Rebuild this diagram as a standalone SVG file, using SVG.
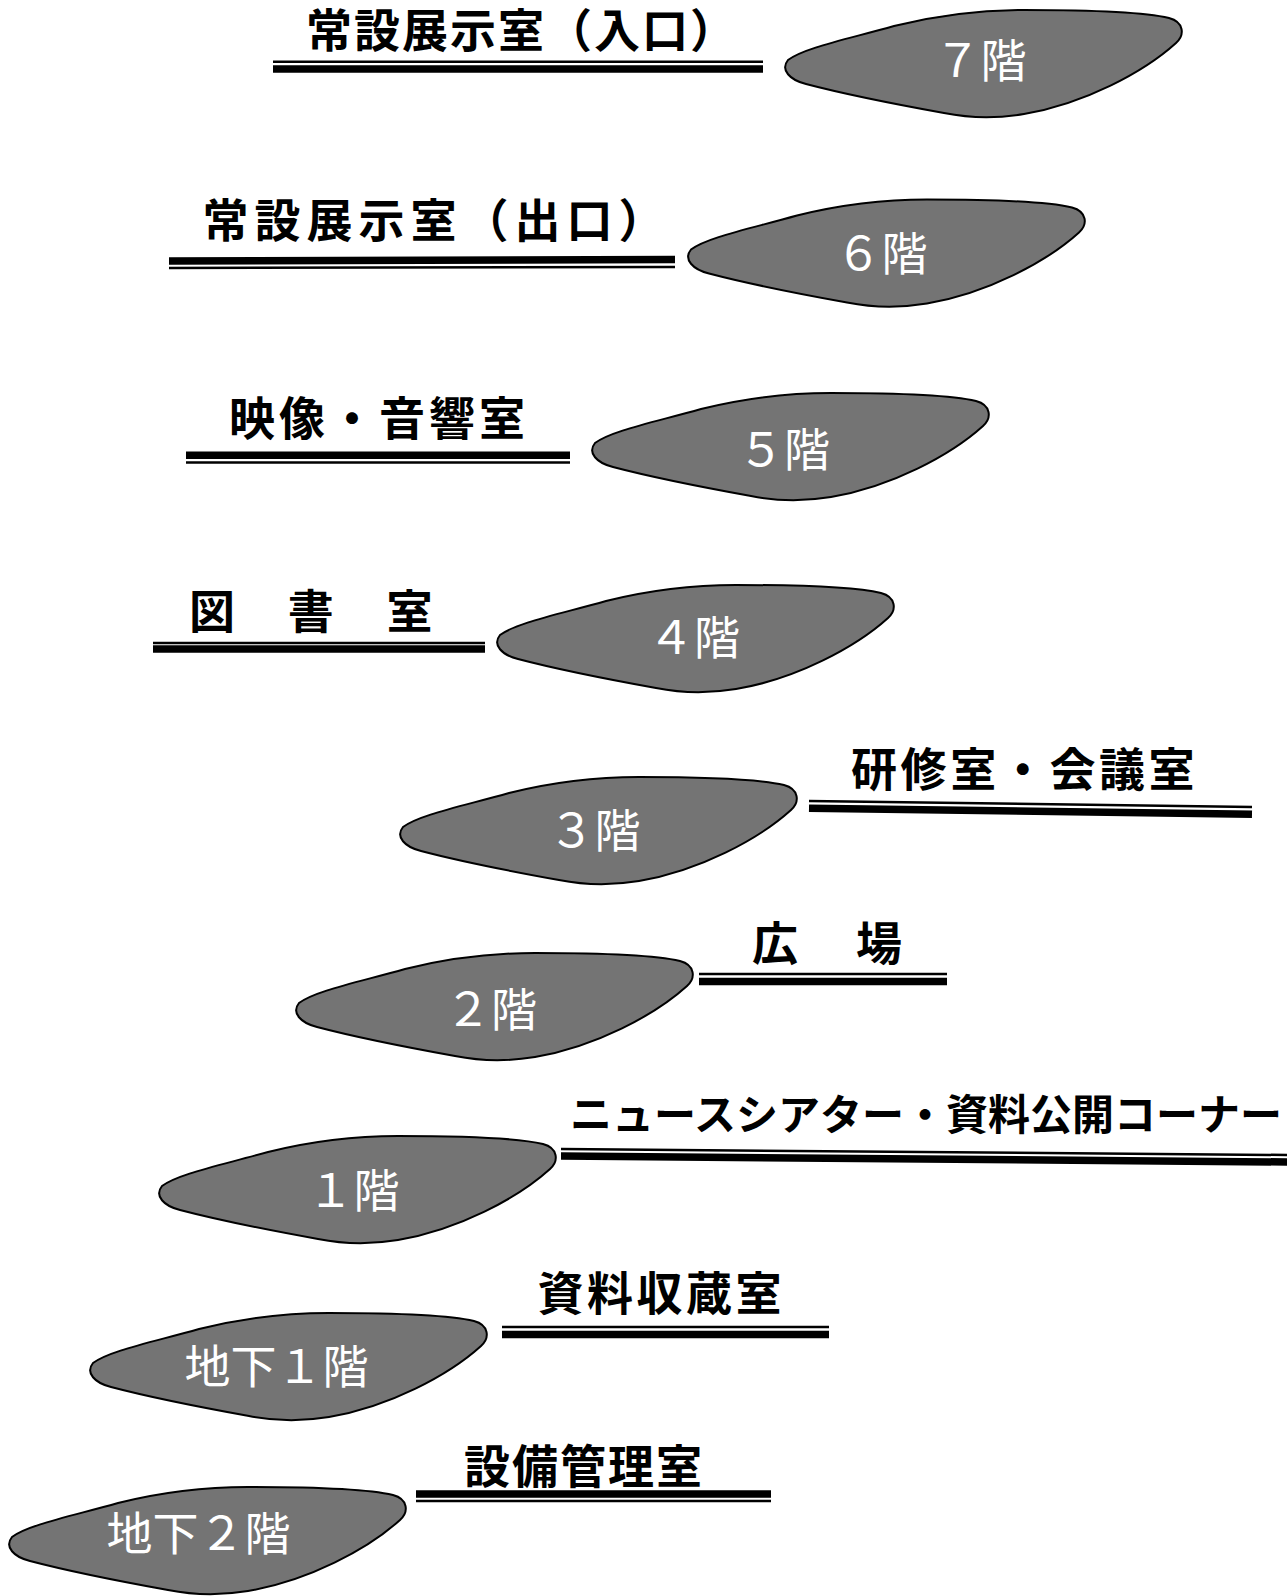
<svg xmlns="http://www.w3.org/2000/svg" xmlns:xlink="http://www.w3.org/1999/xlink" width="1287" height="1596" viewBox="0 0 1287 1596">
<style>
.blob{fill:#747474;stroke:#000;stroke-width:2}
.ft{font-family:"Noto Sans CJK JP","Noto Sans",sans-serif;font-size:46px;fill:#fff;text-anchor:middle}
.lb{font-family:"Noto Sans CJK JP","Noto Sans",sans-serif;font-size:46px;fill:#000;font-weight:700}
.sm{font-size:42px}
.thin{stroke:#000;stroke-width:2.5}
.thick{stroke:#000;stroke-width:7.5}
</style>
<defs>
<path id="blobshape" d="M4,52 C20,40 60,32 110,18 C150,8 190,2 240,2 C300,2 360,4 385,10 C400,14 401,27 392,35 C360,64 300,96 240,106 C210,111 185,110 160,105 C110,96 60,86 22,76 C6,72 -4,62 4,52 Z"/>
</defs>
<rect width="1287" height="1596" fill="#fff"/>
<g id="connectors">
<line class="thin" x1="273" y1="61.7" x2="763" y2="61.7"/>
<line class="thick" x1="273" y1="69" x2="763" y2="69"/>
<line class="thick" x1="169" y1="261" x2="675" y2="259.5"/>
<line class="thin" x1="169" y1="268" x2="675" y2="267"/>
<line class="thick" x1="186" y1="455.3" x2="570" y2="455.3"/>
<line class="thin" x1="186" y1="462.5" x2="570" y2="462.5"/>
<line class="thin" x1="153" y1="643" x2="485" y2="643"/>
<line class="thick" x1="153" y1="649" x2="485" y2="649"/>
<line class="thin" x1="809" y1="801" x2="1252" y2="807"/>
<line class="thick" x1="809" y1="808.3" x2="1252" y2="814.2"/>
<line class="thin" x1="699" y1="974" x2="947" y2="974"/>
<line class="thick" x1="699" y1="981.6" x2="947" y2="981.6"/>
<line class="thin" x1="561" y1="1149" x2="1287" y2="1155"/>
<line class="thick" x1="561" y1="1156" x2="1287" y2="1162"/>
<line class="thin" x1="502" y1="1327" x2="829" y2="1327"/>
<line class="thick" x1="502" y1="1334.6" x2="829" y2="1334.6"/>
<line class="thick" x1="416" y1="1494" x2="771" y2="1494"/>
<line class="thin" x1="416" y1="1501" x2="771" y2="1501"/>
</g>
<g id="floor7"><use xlink:href="#blobshape" class="blob" transform="translate(784,8)"/><text class="ft" x="980.5" y="77">７階</text></g>
<g id="floor6"><use xlink:href="#blobshape" class="blob" transform="translate(687,197.5)"/><text class="ft" x="881.5" y="270">６階</text></g>
<g id="floor5"><use xlink:href="#blobshape" class="blob" transform="translate(591,391)"/><text class="ft" x="784" y="466">５階</text></g>
<g id="floor4"><use xlink:href="#blobshape" class="blob" transform="translate(496,583)"/><text class="ft" x="694" y="654">４階</text></g>
<g id="floor3"><use xlink:href="#blobshape" class="blob" transform="translate(399,775)"/><text class="ft" x="594.5" y="847">３階</text></g>
<g id="floor2"><use xlink:href="#blobshape" class="blob" transform="translate(295,951)"/><text class="ft" x="491" y="1026">２階</text></g>
<g id="floor1"><use xlink:href="#blobshape" class="blob" transform="translate(158,1134)"/><text class="ft" x="353.5" y="1207">１階</text></g>
<g id="floorB1"><use xlink:href="#blobshape" class="blob" transform="translate(89,1311)"/><text class="ft" x="276.5" y="1383">地下１階</text></g>
<g id="floorB2"><use xlink:href="#blobshape" class="blob" transform="translate(8,1485)"/><text class="ft" x="198.5" y="1550">地下２階</text></g>
<g id="label7"><text class="lb" x="306" y="47" letter-spacing="2">常設展示室（入口）</text></g>
<g id="label6"><text class="lb" x="202.5" y="237" letter-spacing="6">常設展示室（出口）</text></g>
<g id="label5"><text class="lb" x="229" y="435" letter-spacing="4">映像・音響室</text></g>
<g id="label4"><text class="lb" x="189" y="628" letter-spacing="3.4">図　書　室</text></g>
<g id="label3"><text class="lb" x="851" y="786" letter-spacing="3.6">研修室・会議室</text></g>
<g id="label2"><text class="lb" x="752" y="960" letter-spacing="6">広　場</text></g>
<g id="label1"><text class="lb sm" x="570" y="1130">ニュースシアター・資料公開コーナー</text></g>
<g id="labelB1"><text class="lb" x="537.5" y="1310" letter-spacing="3.5">資料収蔵室</text></g>
<g id="labelB2"><text class="lb" x="464" y="1483" letter-spacing="2">設備管理室</text></g>
</svg>
